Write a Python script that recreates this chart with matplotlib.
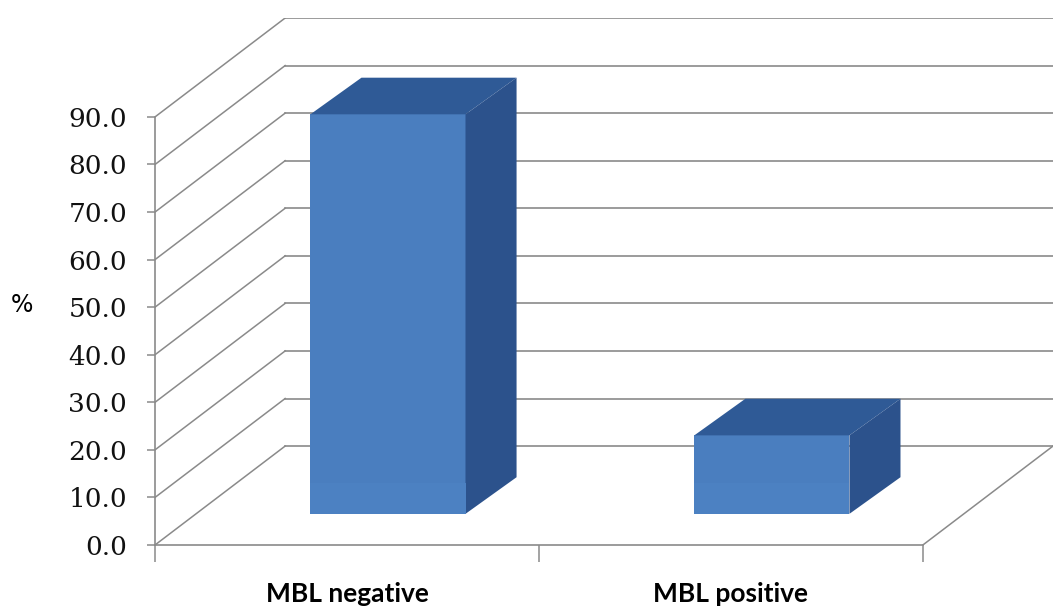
import matplotlib.pyplot as plt
from matplotlib.patches import Polygon
from matplotlib.ticker import FormatStrFormatter
import numpy as np

categories = ["MBL negative", "MBL positive"]
values = [84.0, 16.5]
y_ticks = [0, 10, 20, 30, 40, 50, 60, 70, 80, 90]

# fake 3d: depth of the floor and of the bars, in data units
depth_x, depth_y = 0.339, 20.8
bar_dx, bar_dy = 0.133, 7.7
bar_w = 0.404
grid_col = "#8a8a8a"

fig = plt.figure(figsize=(10.57, 6.10), dpi=100)
ax = fig.add_axes([155 / 1057, 65 / 610, 898 / 1057, 527 / 610])
ax.set_xlim(-0.5, 1.5 + depth_x)
ax.set_ylim(0, 90 + depth_y)

# back wall gridlines and side wall diagonals
for v in y_ticks:
    ax.plot([-0.5 + depth_x, 1.5 + depth_x], [v + depth_y, v + depth_y],
            color=grid_col, lw=1.2, zorder=1)
    ax.plot([-0.5, -0.5 + depth_x], [v, v + depth_y], color=grid_col, lw=1.1, zorder=1)
# floor right edge
ax.plot([1.5, 1.5 + depth_x], [0, depth_y], color=grid_col, lw=1.1, zorder=1)

# bars: front face + top + side
frac = (depth_y - bar_dy) / 2 / depth_y
x = np.arange(len(categories)) + frac * depth_x
base = frac * depth_y
ax.bar(x, values, width=bar_w, bottom=base, color="#4a7ebf", zorder=3)
for xi, v in zip(x, values):
    xl, xr = xi - bar_w / 2, xi + bar_w / 2
    top = base + v
    ax.add_patch(Polygon([(xl, top), (xr, top), (xr + bar_dx, top + bar_dy),
                          (xl + bar_dx, top + bar_dy)], closed=True,
                         facecolor="#2f5a96", edgecolor="none", zorder=3))
    ax.add_patch(Polygon([(xr, base), (xr + bar_dx, base + bar_dy),
                          (xr + bar_dx, top + bar_dy), (xr, top)], closed=True,
                         facecolor="#2c528c", edgecolor="none", zorder=3))
    # slightly lighter band near the bottom of the front face
    ax.bar(xi, 6.5, width=bar_w, bottom=base, color="#4c81c2", zorder=3.5)

for s in ["top", "right"]:
    ax.spines[s].set_visible(False)
ax.spines["left"].set_bounds(0, 90)
ax.spines["bottom"].set_bounds(-0.5, 1.5)
for s in ["left", "bottom"]:
    ax.spines[s].set_color(grid_col)
    ax.spines[s].set_linewidth(1.2)

ax.set_yticks(y_ticks)
ax.yaxis.set_major_formatter(FormatStrFormatter("%.1f"))
ax.tick_params(axis="y", length=6, width=1.1, color=grid_col, pad=14,
               labelsize=19, labelcolor="#111111")
for lab in ax.get_yticklabels():
    lab.set_family("DejaVu Serif")

ax.set_xticks(np.arange(len(categories)))
ax.set_xticklabels(categories, fontsize=19, fontweight="bold", family="Lato")
ax.set_xticks([-0.5, 0.5, 1.5], minor=True)
ax.tick_params(axis="x", which="major", length=0, pad=27)
ax.tick_params(axis="x", which="minor", length=12, width=1.1, color=grid_col)

fig.text(22 / 1057, 1 - 305 / 610, "%", fontsize=17, ha="center", va="center")

fig.savefig("out.png", dpi=100)
